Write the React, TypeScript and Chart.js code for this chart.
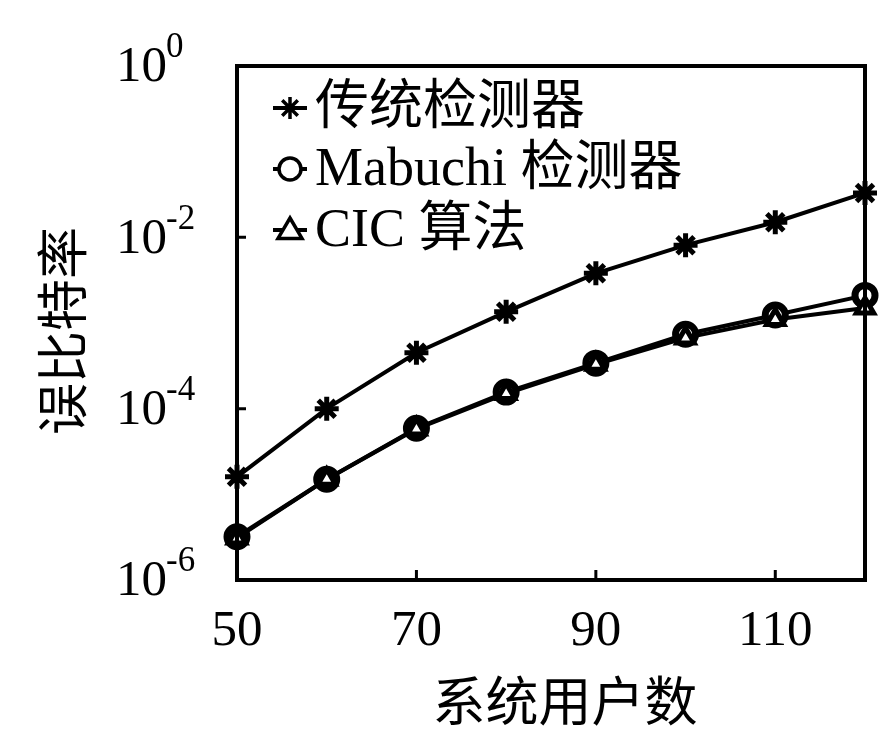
import { useEffect, useRef } from 'react';
import { Chart, registerables } from 'chart.js';
Chart.register(...registerables);

const users = [50, 60, 70, 80, 90, 100, 110, 120];
const traditional = [1.6e-5, 1.0e-4, 4.5e-4, 1.35e-3, 3.8e-3, 8.1e-3, 1.5e-2, 3.3e-2];
const mabuchi = [3.2e-6, 1.5e-5, 5.9e-5, 1.56e-4, 3.4e-4, 7.4e-4, 1.24e-3, 2.1e-3];
const cic = [3.1e-6, 1.5e-5, 5.8e-5, 1.5e-4, 3.3e-4, 6.7e-4, 1.1e-3, 1.5e-3];
const seriesNames = ['传统检测器', 'Mabuchi 检测器', 'CIC 算法'];
const xTicks = [50, 70, 90, 110];
const yTickExponents = [0, -2, -4, -6];
const xTitle = '系统用户数';
const yTitle = '误比特率';

const SERIF = '"Liberation Serif", "Noto Sans CJK SC", serif';

function drawMarker(ctx: CanvasRenderingContext2D, kind: number, x: number, y: number) {
  ctx.save();
  ctx.strokeStyle = '#000';
  ctx.fillStyle = '#fff';
  ctx.lineWidth = 3.5;
  if (kind === 0) {
    const r = 11;
    ctx.beginPath();
    for (let i = 0; i < 4; i++) {
      const a = (i * Math.PI) / 4;
      ctx.moveTo(x - r * Math.cos(a), y - r * Math.sin(a));
      ctx.lineTo(x + r * Math.cos(a), y + r * Math.sin(a));
    }
    ctx.stroke();
  } else if (kind === 1) {
    ctx.beginPath();
    ctx.arc(x, y, 11, 0, Math.PI * 2);
    ctx.fill();
    ctx.stroke();
  } else {
    const r = 12;
    ctx.beginPath();
    ctx.moveTo(x, y - r);
    ctx.lineTo(x + r, y + r * 0.7);
    ctx.lineTo(x - r, y + r * 0.7);
    ctx.closePath();
    ctx.fill();
    ctx.stroke();
  }
  ctx.restore();
}

const decorPlugin = {
  id: 'decor',
  afterDraw(chart: any) {
    const { ctx, chartArea } = chart;
    const xs = chart.scales.x;
    const ys = chart.scales.y;
    const { left, right, top, bottom } = chartArea;
    ctx.save();
    // frame
    ctx.strokeStyle = '#000';
    ctx.lineWidth = 4;
    ctx.strokeRect(left, top, right - left, bottom - top);
    // inner ticks
    ctx.lineWidth = 3;
    ctx.beginPath();
    xTicks.forEach((t) => {
      const px = xs.getPixelForValue(t);
      if (px > left + 5 && px < right - 5) {
        ctx.moveTo(px, bottom);
        ctx.lineTo(px, bottom - 10);
      }
    });
    yTickExponents.forEach((e) => {
      const py = ys.getPixelForValue(Math.pow(10, e));
      if (py > top + 5 && py < bottom - 5) {
        ctx.moveTo(left, py);
        ctx.lineTo(left + 9, py);
      }
    });
    ctx.stroke();

    ctx.fillStyle = '#000';
    // x tick labels
    ctx.font = `51px ${SERIF}`;
    ctx.textAlign = 'center';
    ctx.textBaseline = 'middle';
    xTicks.forEach((t) => {
      ctx.fillText(String(t), xs.getPixelForValue(t), bottom + 52);
    });
    // y tick labels with superscript exponents
    yTickExponents.forEach((e) => {
      const py = ys.getPixelForValue(Math.pow(10, e));
      ctx.font = `51px ${SERIF}`;
      ctx.textAlign = 'right';
      ctx.textBaseline = 'middle';
      ctx.fillText('10', left - 70, py + 2);
      ctx.font = `35px ${SERIF}`;
      ctx.textAlign = 'left';
      ctx.fillText(e === 0 ? '0' : `-${-e}`, left - 71, py - 18);
    });
    // x title
    ctx.font = `53px ${SERIF}`;
    ctx.textAlign = 'center';
    ctx.textBaseline = 'middle';
    ctx.fillText(xTitle, (left + right) / 2 + 14, bottom + 127);
    // y title
    ctx.font = `52px ${SERIF}`;
    ctx.save();
    ctx.translate(left - 169, (top + bottom) / 2 + 8);
    ctx.rotate(-Math.PI / 2);
    ctx.fillText(yTitle, 0, 0);
    ctx.restore();
    // legend
    ctx.font = `54px ${SERIF}`;
    ctx.textAlign = 'left';
    ctx.textBaseline = 'middle';
    seriesNames.forEach((name, i) => {
      const ly = top + 42 + i * 61;
      const mx = left + 53;
      ctx.strokeStyle = '#000';
      ctx.lineWidth = 4;
      ctx.beginPath();
      ctx.moveTo(mx - 17, ly);
      ctx.lineTo(mx + 17, ly);
      ctx.stroke();
      drawMarker(ctx, i, mx, ly);
      ctx.fillStyle = '#000';
      ctx.fillText(name, left + 78, ly + 2);
    });
    ctx.restore();
  },
};

export default function App() {
  const ref = useRef<HTMLCanvasElement>(null);
  useEffect(() => {
    if (!ref.current) return;
    const mk = (arr: number[]) => users.map((u, i) => ({ x: u, y: arr[i] }));
    const chart = new Chart(ref.current, {
      type: 'line',
      data: {
        datasets: [
          {
            label: seriesNames[0],
            data: mk(traditional),
            borderColor: '#000',
            borderWidth: 4,
            pointStyle: 'star',
            pointRadius: 12,
            pointBorderWidth: 5,
            pointBorderColor: '#000',
            pointBackgroundColor: '#000',
            clip: false,
          },
          {
            label: seriesNames[2],
            data: mk(cic),
            borderColor: '#000',
            borderWidth: 4,
            pointStyle: 'triangle',
            pointRadius: 10,
            pointBorderWidth: 5,
            pointBorderColor: '#000',
            pointBackgroundColor: '#fff',
            clip: false,
          },
          {
            label: seriesNames[1],
            data: mk(mabuchi),
            borderColor: '#000',
            borderWidth: 4,
            pointStyle: 'circle',
            pointRadius: 10,
            pointBorderWidth: 7,
            pointBorderColor: '#000',
            pointBackgroundColor: '#fff',
            clip: false,
          },
        ],
      },
      options: {
        responsive: false,
        animation: false,
        layout: { padding: { left: 237, top: 66, right: 18, bottom: 153 } },
        plugins: { legend: { display: false }, tooltip: { enabled: false } },
        scales: {
          x: { type: 'linear', min: 50, max: 120, display: false },
          y: { type: 'logarithmic', min: 1e-6, max: 1, display: false },
        },
      },
      plugins: [decorPlugin],
    });
    return () => chart.destroy();
  }, []);
  return (
    <div style={{ position: 'absolute', left: 0, top: 0, width: 883, height: 733, background: '#fff' }}>
      <canvas ref={ref} width={883} height={733} style={{ display: 'block' }} />
    </div>
  );
}
